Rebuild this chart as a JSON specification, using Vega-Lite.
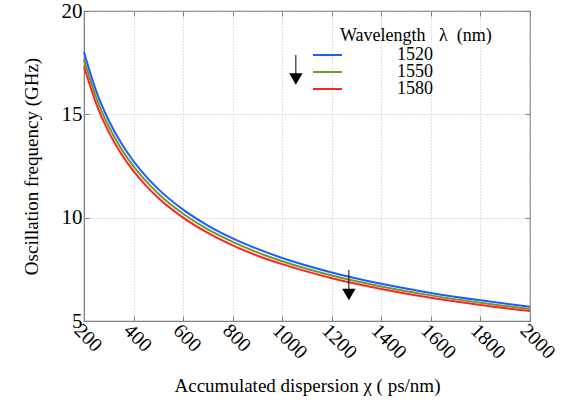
{
  "$schema": "https://vega.github.io/schema/vega-lite/v6.json",
  "width": 446,
  "height": 310,
  "autosize": "none",
  "padding": {"left": 84, "top": 11, "right": 32, "bottom": 81},
  "config": {
    "font": "'Liberation Serif', serif",
    "view": {"stroke": "#808080", "strokeWidth": 1.2},
    "axis": {
      "labelFont": "'Liberation Serif', serif",
      "titleFont": "'Liberation Serif', serif",
      "titleFontWeight": "normal",
      "labelColor": "#000",
      "titleColor": "#000",
      "domainColor": "#808080",
      "tickColor": "#808080"
    },
    "legend": {
      "labelFont": "'Liberation Serif', serif",
      "titleFont": "'Liberation Serif', serif"
    }
  },
  "datasets": {
    "curves": [
      {"chi": 200, "f": 18.00, "wl": "1520"}, {"chi": 250, "f": 16.10, "wl": "1520"}, {"chi": 300, "f": 14.70, "wl": "1520"}, {"chi": 350, "f": 13.61, "wl": "1520"}, {"chi": 400, "f": 12.73, "wl": "1520"}, {"chi": 450, "f": 12.00, "wl": "1520"}, {"chi": 500, "f": 11.38, "wl": "1520"}, {"chi": 600, "f": 10.39, "wl": "1520"}, {"chi": 700, "f": 9.62, "wl": "1520"}, {"chi": 800, "f": 9.00, "wl": "1520"}, {"chi": 900, "f": 8.49, "wl": "1520"}, {"chi": 1000, "f": 8.05, "wl": "1520"}, {"chi": 1200, "f": 7.35, "wl": "1520"}, {"chi": 1400, "f": 6.80, "wl": "1520"}, {"chi": 1600, "f": 6.36, "wl": "1520"}, {"chi": 1800, "f": 6.00, "wl": "1520"}, {"chi": 2000, "f": 5.69, "wl": "1520"},
      {"chi": 200, "f": 17.65, "wl": "1550"}, {"chi": 250, "f": 15.79, "wl": "1550"}, {"chi": 300, "f": 14.41, "wl": "1550"}, {"chi": 350, "f": 13.34, "wl": "1550"}, {"chi": 400, "f": 12.48, "wl": "1550"}, {"chi": 450, "f": 11.77, "wl": "1550"}, {"chi": 500, "f": 11.16, "wl": "1550"}, {"chi": 600, "f": 10.19, "wl": "1550"}, {"chi": 700, "f": 9.43, "wl": "1550"}, {"chi": 800, "f": 8.83, "wl": "1550"}, {"chi": 900, "f": 8.32, "wl": "1550"}, {"chi": 1000, "f": 7.89, "wl": "1550"}, {"chi": 1200, "f": 7.20, "wl": "1550"}, {"chi": 1400, "f": 6.67, "wl": "1550"}, {"chi": 1600, "f": 6.24, "wl": "1550"}, {"chi": 1800, "f": 5.88, "wl": "1550"}, {"chi": 2000, "f": 5.58, "wl": "1550"},
      {"chi": 200, "f": 17.32, "wl": "1580"}, {"chi": 250, "f": 15.49, "wl": "1580"}, {"chi": 300, "f": 14.14, "wl": "1580"}, {"chi": 350, "f": 13.09, "wl": "1580"}, {"chi": 400, "f": 12.25, "wl": "1580"}, {"chi": 450, "f": 11.55, "wl": "1580"}, {"chi": 500, "f": 10.95, "wl": "1580"}, {"chi": 600, "f": 10.00, "wl": "1580"}, {"chi": 700, "f": 9.26, "wl": "1580"}, {"chi": 800, "f": 8.66, "wl": "1580"}, {"chi": 900, "f": 8.16, "wl": "1580"}, {"chi": 1000, "f": 7.75, "wl": "1580"}, {"chi": 1200, "f": 7.07, "wl": "1580"}, {"chi": 1400, "f": 6.55, "wl": "1580"}, {"chi": 1600, "f": 6.12, "wl": "1580"}, {"chi": 1800, "f": 5.77, "wl": "1580"}, {"chi": 2000, "f": 5.48, "wl": "1580"}
    ],
    "arrows": [
      {"x": 1055, "y1": 17.87, "y2": 16.9, "head": 16.71},
      {"x": 1269, "y1": 7.47, "y2": 6.5, "head": 6.28}
    ]
  },
  "layer": [
    {
      "data": {"name": "curves"},
      "mark": {"type": "line", "strokeWidth": 2, "interpolate": "monotone"},
      "encoding": {
        "x": {
          "field": "chi", "type": "quantitative",
          "scale": {"domain": [200, 2000], "nice": false, "zero": false},
          "axis": {
            "title": "Accumulated dispersion χ ( ps/nm)",
            "titleFont": "'Liberation Serif', serif",
            "titleFontSize": 19,
            "titlePadding": 14,
            "format": "d",
            "values": [200, 400, 600, 800, 1000, 1200, 1400, 1600, 1800, 2000],
            "labelFont": "'Liberation Serif', serif",
            "labelAngle": 45, "labelAlign": "left", "labelBaseline": "top",
            "labelFontSize": 20, "labelPadding": 4, "tickSize": -5,
            "labelOverlap": false, "labelFlush": false,
            "grid": true, "gridDash": [1, 2], "gridColor": "#c0c0c0", "gridWidth": 1
          }
        },
        "y": {
          "field": "f", "type": "quantitative",
          "scale": {"domain": [5, 20], "nice": false, "zero": false},
          "axis": {
            "title": "Oscillation frequency (GHz)",
            "titleFont": "'Liberation Serif', serif",
            "titleFontSize": 19,
            "titlePadding": 20,
            "values": [5, 10, 15, 20],
            "labelFont": "'Liberation Serif', serif",
            "labelFontSize": 21, "labelPadding": 7, "tickSize": -5,
            "labelOverlap": false, "labelFlush": false,
            "grid": true, "gridDash": [1, 2], "gridColor": "#c0c0c0", "gridWidth": 1
          }
        },
        "color": {
          "field": "wl", "type": "nominal",
          "scale": {"domain": ["1520", "1550", "1580"], "range": ["#1f5cff", "#6a9a2a", "#ff2424"]},
          "legend": {
            "title": "\u200b\u00a0\u00a0\u00a0\u00a0\u00a0\u00a0Wavelength\u00a0\u00a0\u00a0λ\u00a0\u00a0(nm)",
            "titleFont": "'Liberation Serif', serif", "titleFontWeight": "normal", "titleFontSize": 18, "titleColor": "#000",
            "labelFont": "'Liberation Serif', serif", "labelFontSize": 18, "labelColor": "#000",
            "orient": "none", "legendX": 229, "legendY": 16,
            "symbolType": "M-4,0L4,0", "symbolSize": 100, "symbolStrokeWidth": 2,
            "labelOffset": 66, "clipHeight": 16, "rowPadding": -1, "titlePadding": 2
          }
        }
      }
    },
    {
      "data": {"name": "arrows"},
      "mark": {"type": "rule", "color": "#000", "strokeWidth": 1},
      "encoding": {
        "x": {"field": "x", "type": "quantitative", "axis": {"orient": "top", "title": null, "labels": false, "tickSize": -5, "grid": false, "domain": false, "values": [200, 400, 600, 800, 1000, 1200, 1400, 1600, 1800, 2000]}},
        "y": {"field": "y1", "type": "quantitative", "axis": {"orient": "right", "title": null, "labels": false, "tickSize": -5, "grid": false, "domain": false, "values": [5, 10, 15, 20]}},
        "y2": {"field": "y2"}
      }
    },
    {
      "data": {"name": "arrows"},
      "mark": {"type": "point", "shape": "triangle-down", "filled": true, "color": "#000", "opacity": 1, "size": 180},
      "encoding": {
        "x": {"field": "x", "type": "quantitative", "axis": null},
        "y": {"field": "head", "type": "quantitative", "axis": null}
      }
    }
  ],
  "resolve": {"axis": {"x": "independent", "y": "independent"}}
}
